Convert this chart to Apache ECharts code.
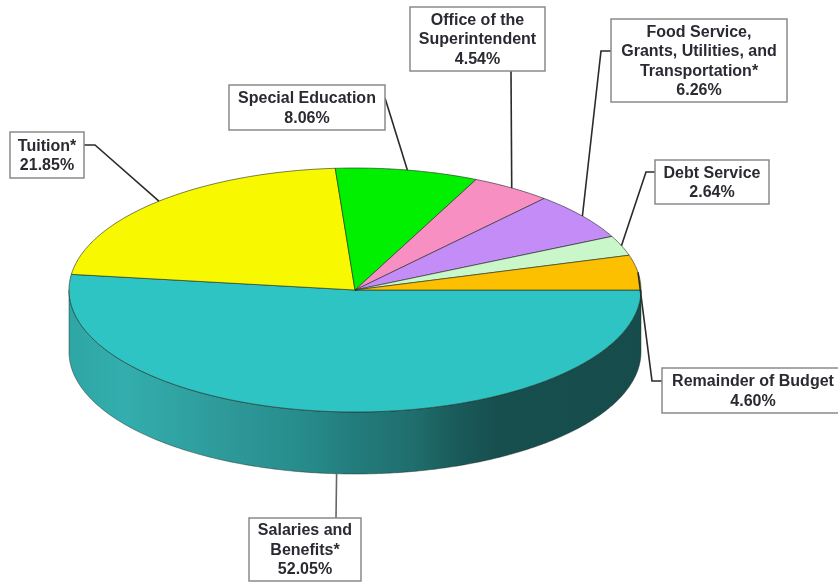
<!DOCTYPE html>
<html>
<head>
<meta charset="utf-8">
<title>Budget share by category</title>
<style>html,body{margin:0;padding:0;background:#fff}#chart{width:838px;height:582px}</style>
<script src="https://cdn.jsdelivr.net/npm/echarts@6/dist/echarts.min.js"></script>
</head>
<body>
<div id="chart"></div>
<script>
// Budget categories in drawing order, clockwise from three o'clock.
const categories = [
  'Salaries and\nBenefits*',
  'Tuition*',
  'Special Education',
  'Office of the\nSuperintendent',
  'Food Service,\nGrants, Utilities, and\nTransportation*',
  'Debt Service',
  'Remainder of Budget'
];
const shares = [52.05, 21.85, 8.06, 4.54, 6.26, 2.64, 4.60];
const sliceColors = ['#2ec4c4', '#f8f800', '#00f000', '#f78fc2', '#c38cf6', '#c9f7c9', '#fdc000'];

// Tilted disc geometry, in pixels.
const CX = 355, CY = 290, RX = 286, RY = 122, DEPTH = 62;

// Callout boxes [x, y, width, height] and the elbow each leader passes through.
const boxes = [
  [249, 518, 112, 63],
  [10, 132, 74, 46],
  [229, 85, 156, 45],
  [410, 7, 135, 64],
  [611, 19, 176, 83],
  [655, 160, 114, 44],
  [662, 368, 182, 45]
];
const leaderEnds = [
  [[336, 518]],
  [[95, 145], [84, 145]],
  [[385, 98]],
  [[511, 71]],
  [[601, 51], [611, 51]],
  [[646, 172], [655, 172]],
  [[652, 381], [662, 381]]
];

const total = shares.reduce((a, b) => a + b, 0);
const startAngles = [];
shares.reduce((acc, v, i) => { startAngles[i] = acc; return acc + v / total * 2 * Math.PI; }, 0);

function rim(angle, drop) {
  return [CX + RX * Math.cos(angle), CY + RY * Math.sin(angle) + (drop || 0)];
}
function arc(from, to, drop) {
  const n = Math.max(2, Math.ceil(Math.abs(to - from) * 90));
  const pts = [];
  for (let k = 0; k <= n; k++) pts.push(rim(from + (to - from) * k / n, drop));
  return pts;
}

const edgeStroke = 'rgba(30,40,30,0.75)';

function renderSlice(params, api) {
  const i = params.dataIndex;
  const sweep = api.value(0) / total * 2 * Math.PI;
  const a0 = startAngles[i];
  const children = [];
  if (i === 0) {
    // Visible outer wall of the disc, running along the lower half of the rim.
    const wall = arc(0, Math.PI).concat(arc(Math.PI, 0, DEPTH));
    children.push({
      type: 'polygon',
      shape: { points: wall },
      style: {
        fill: new echarts.graphic.LinearGradient(0, 0, 1, 0, [
          { offset: 0, color: '#2fa6a6' },
          { offset: 0.1, color: '#33adad' },
          { offset: 0.25, color: '#2f9c9c' },
          { offset: 0.42, color: '#278a8a' },
          { offset: 0.5, color: '#237c7c' },
          { offset: 0.6, color: '#206e6e' },
          { offset: 0.68, color: '#1a5a5a' },
          { offset: 0.75, color: '#174e4e' },
          { offset: 1, color: '#164c4c' }
        ]),
        stroke: edgeStroke,
        lineWidth: 0.6
      }
    });
  }
  children.push({
    type: 'polygon',
    shape: { points: [[CX, CY]].concat(arc(a0, a0 + sweep)) },
    style: { fill: sliceColors[i], stroke: edgeStroke, lineWidth: 0.8 }
  });
  return { type: 'group', children };
}

function renderLeader(params, api) {
  const i = params.dataIndex;
  const mid = startAngles[i] + api.value(0) / total * Math.PI;
  // A leader from the front of the disc starts at the wall's lower edge.
  const front = Math.sin(mid) > 0.5;
  return {
    type: 'polyline',
    shape: { points: [rim(mid, front ? DEPTH : 0)].concat(leaderEnds[i]) },
    style: { fill: null, stroke: i === 0 ? '#666' : '#2b2b2b', lineWidth: 1.6 }
  };
}

function renderCallout(params, api) {
  const i = params.dataIndex;
  const b = boxes[i];
  const label = categories[i] + '\n' + api.value(0).toFixed(2) + '%';
  return {
    type: 'group',
    children: [
      {
        type: 'rect',
        shape: { x: b[0], y: b[1], width: b[2], height: b[3] },
        style: { fill: '#fff', stroke: '#8a8a8a', lineWidth: 1.5 }
      },
      {
        type: 'text',
        style: {
          x: b[0] + b[2] / 2,
          y: b[1] + b[3] / 2 + 1,
          text: label,
          align: 'center',
          verticalAlign: 'middle',
          font: 'bold 16px "Liberation Sans", Arial, sans-serif',
          lineHeight: 19.5,
          fill: '#2a2a32'
        }
      }
    ]
  };
}

const rows = shares.map(v => [v]);
const chart = echarts.init(document.getElementById('chart'), null, { renderer: 'canvas' });
chart.setOption({
  animation: false,
  backgroundColor: '#ffffff',
  series: [
    { type: 'custom', name: 'Budget', coordinateSystem: 'none', renderItem: renderSlice, data: rows, silent: true, z: 1 },
    { type: 'custom', name: 'Leaders', coordinateSystem: 'none', renderItem: renderLeader, data: rows, silent: true, z: 2 },
    { type: 'custom', name: 'Callouts', coordinateSystem: 'none', renderItem: renderCallout, data: rows, silent: true, z: 3 }
  ]
});
</script>
</body>
</html>
